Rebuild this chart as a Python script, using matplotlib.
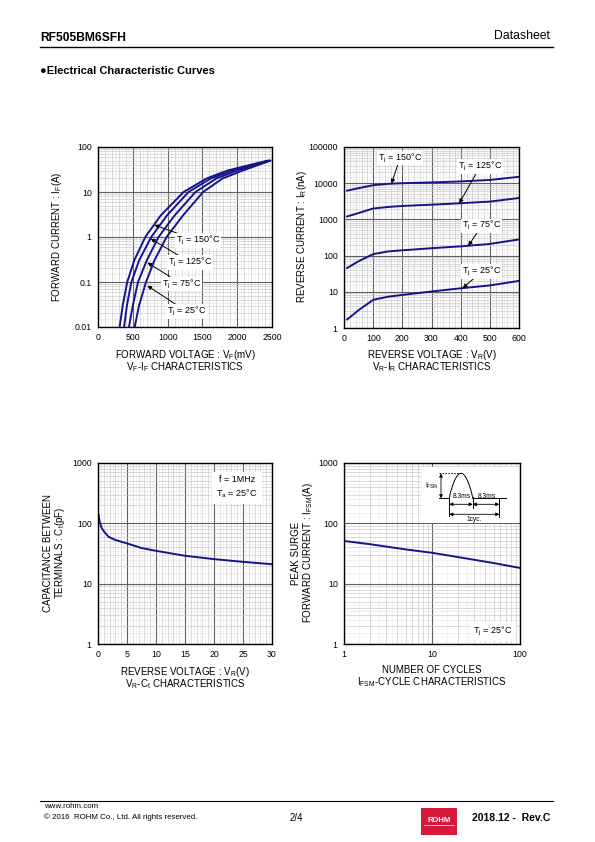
import numpy as np
import matplotlib
matplotlib.use('Agg')
import matplotlib.pyplot as plt
from matplotlib.ticker import FixedLocator, MultipleLocator, LogLocator, NullFormatter
from matplotlib.patches import Rectangle

plt.rcParams['font.family'] = ['Liberation Sans', 'DejaVu Sans']
plt.rcParams['mathtext.fontset'] = 'custom'
plt.rcParams['mathtext.rm'] = 'Liberation Sans'
plt.rcParams['mathtext.it'] = 'Liberation Sans'
plt.rcParams['mathtext.bf'] = 'Liberation Sans:bold'

NAVY = '#15158a'

# VF-IF characteristics (VF in mV at given IF in A)
if_pts = [0.01, 0.03, 0.1, 0.3, 1, 3, 10, 20, 30, 50]
vf_150 = [310, 355, 420, 520, 680, 900, 1230, 1560, 1860, 2440]
vf_125 = [375, 415, 480, 590, 765, 990, 1300, 1620, 1930, 2460]
vf_75 = [445, 500, 575, 700, 870, 1100, 1400, 1700, 2000, 2470]
vf_25 = [527, 590, 690, 810, 985, 1220, 1510, 1790, 2080, 2480]

# VR-IR characteristics (IR in nA)
vr_pts = [10, 50, 100, 150, 200, 300, 400, 500, 600]
ir_150 = [6200, 7300, 8800, 9600, 10000, 10500, 11200, 12300, 15000]
ir_125 = [1200, 1500, 2000, 2200, 2350, 2550, 2800, 3100, 3900]
ir_75 = [45, 70, 110, 130, 140, 160, 180, 210, 280]
ir_25 = [1.7, 3.1, 6.0, 7.3, 8.2, 10.2, 12.5, 15.0, 20.0]

# VR-Ct characteristics
vr_c = [0.05, 0.3, 0.6, 1, 1.8, 3, 5, 7.5, 10, 15, 20, 25, 30]
ct = [145, 105, 85, 74, 60, 53, 46.5, 39, 35, 29, 25.5, 23, 21]

# IFSM-cycle characteristics
cycles = [1, 2, 5, 10, 20, 50, 100]
ifsm = [51, 45, 37, 32.5, 27.5, 22, 18.2]

fig = plt.figure(figsize=(5.95, 8.42), dpi=100)

FS_LAB = 7.0
FS_TICK = 6.3
FS_NOTE = 6.5


def axes_px(x0, y0, x1, y1):
    return fig.add_axes([x0 / 595, 1 - y1 / 842, (x1 - x0) / 595, (y1 - y0) / 842])


def ftext(x, y, s, **kw):
    fig.text(x / 595, 1 - y / 842, s, **kw)


def style(ax):
    for sp in ax.spines.values():
        sp.set_linewidth(1.0)
        sp.set_color('black')
    ax.tick_params(which='both', length=0, labelsize=FS_TICK, pad=4.5)
    ax.set_axisbelow(True)
    ax.grid(which='major', color='#606060', lw=0.8)
    ax.grid(which='minor', color='#c6c6c6', lw=0.45)


def faint_log(ax, lo, hi, axis='y'):
    for e in range(lo, hi):
        for s in [1.5, 2.5, 3.5, 4.5]:
            if axis == 'y':
                ax.axhline(s * 10.0 ** e, color='#e6e6e6', lw=0.4, zorder=0.2)
            else:
                ax.axvline(s * 10.0 ** e, color='#e6e6e6', lw=0.4, zorder=0.2)


def faint_lin(ax, step, lo, hi):
    for v in np.arange(lo + step / 2, hi, step):
        ax.axvline(v, color='#e6e6e6', lw=0.4, zorder=0.2)


def log_ticks(ax, ticks, labels, axis='y'):
    a = ax.yaxis if axis == 'y' else ax.xaxis
    a.set_major_locator(FixedLocator(ticks))
    a.set_minor_locator(LogLocator(base=10, subs=np.arange(2, 10), numticks=20))
    a.set_minor_formatter(NullFormatter())
    if axis == 'y':
        ax.set_yticklabels(labels)
    else:
        ax.set_xticklabels(labels)


def xlabel2(x, y, line1, line2):
    ftext(x, y, line1, ha='center', va='baseline', fontsize=FS_LAB)
    ftext(x, y + 12.5, line2, ha='center', va='baseline', fontsize=FS_LAB)


arrow_kw = dict(arrowstyle='-|>', color='black', lw=0.7, mutation_scale=6,
                shrinkA=0, shrinkB=0)
box_kw = dict(fc='white', ec='none', pad=0.6)
TJ = 'T$_\\mathrm{j}$ = '

# ---------------- VF-IF ----------------
ax1 = axes_px(98, 147, 272, 327)
ax1.set_yscale('log')
ax1.set_xlim(0, 2500)
ax1.set_ylim(0.01, 100)
ax1.xaxis.set_major_locator(MultipleLocator(500))
ax1.xaxis.set_minor_locator(MultipleLocator(100))
log_ticks(ax1, [0.01, 0.1, 1, 10, 100], ['0.01', '0.1', '1', '10', '100'])
style(ax1)
faint_log(ax1, -2, 2)
faint_lin(ax1, 100, 0, 2500)
for vf in [vf_150, vf_125, vf_75, vf_25]:
    ax1.plot(vf, if_pts, color=NAVY, lw=1.4, solid_capstyle='round')
for lbl, tip, pos in [('150°C', (809, 1.85), (0.576, 0.479)),
                      ('125°C', (757, 0.92), (0.529, 0.359)),
                      ('75°C', (709, 0.27), (0.481, 0.239)),
                      ('25°C', (709, 0.083), (0.510, 0.085))]:
    ax1.annotate(TJ + lbl, xy=tip, xytext=pos, textcoords='axes fraction',
                 ha='center', va='center', fontsize=FS_NOTE, bbox=box_kw, arrowprops=arrow_kw)

ftext(57, 237, 'FORWARD CURRENT : I$_\\mathrm{F}$(A)', rotation=90, ha='center', va='center', fontsize=FS_LAB)
xlabel2(185, 358, 'FORWARD VOLTAGE : V$_\\mathrm{F}$(mV)', 'V$_\\mathrm{F}$-I$_\\mathrm{F}$ CHARACTERISTICS')

# ---------------- VR-IR ----------------
ax2 = axes_px(344, 147, 519, 328)
ax2.set_yscale('log')
ax2.set_xlim(0, 600)
ax2.set_ylim(1, 100000)
ax2.xaxis.set_major_locator(MultipleLocator(100))
ax2.xaxis.set_minor_locator(MultipleLocator(20))
log_ticks(ax2, [1, 10, 100, 1000, 10000, 100000],
          ['1', '10', '100', '1000', '10000', '100000'])
style(ax2)
faint_log(ax2, 0, 5)
faint_lin(ax2, 20, 0, 600)
for ir in [ir_150, ir_125, ir_75, ir_25]:
    ax2.plot(vr_pts, ir, color=NAVY, lw=1.4, solid_capstyle='round')
for lbl, tip, pos in [('150°C', (163, 9800), (0.32, 0.939)),
                      ('125°C', (395, 2780), (0.777, 0.891)),
                      ('75°C', (426, 186), (0.787, 0.564)),
                      ('25°C', (407, 12.7), (0.787, 0.311))]:
    ax2.annotate(TJ + lbl, xy=tip, xytext=pos, textcoords='axes fraction',
                 ha='center', va='center', fontsize=FS_NOTE, bbox=box_kw, arrowprops=arrow_kw)

ftext(302, 237, 'REVERSE CURRENT : I$_\\mathrm{R}$(nA)', rotation=90, ha='center', va='center', fontsize=FS_LAB)
xlabel2(432, 358, 'REVERSE VOLTAGE : V$_\\mathrm{R}$(V)', 'V$_\\mathrm{R}$-I$_\\mathrm{R}$ CHARACTERISTICS')

# ---------------- VR-Ct ----------------
ax3 = axes_px(98, 463, 272, 644)
ax3.set_yscale('log')
ax3.set_xlim(0, 30)
ax3.set_ylim(1, 1000)
ax3.xaxis.set_major_locator(MultipleLocator(5))
ax3.xaxis.set_minor_locator(MultipleLocator(1))
log_ticks(ax3, [1, 10, 100, 1000], ['1', '10', '100', '1000'])
style(ax3)
faint_log(ax3, 0, 3)
faint_lin(ax3, 1, 0, 30)
ax3.plot(vr_c, ct, color=NAVY, lw=1.4, solid_capstyle='round')
ax3.text(0.797, 0.867, 'f = 1MHz\nT$_\\mathrm{a}$ = 25°C', transform=ax3.transAxes,
         ha='center', va='center', fontsize=FS_NOTE, linespacing=1.4,
         bbox=dict(fc='white', ec='none', pad=3))

ftext(48, 553, 'CAPACITANCE BETWEEN', rotation=90, ha='center', va='center', fontsize=FS_LAB)
ftext(60, 553, 'TERMINALS : C$_\\mathrm{t}$(pF)', rotation=90, ha='center', va='center', fontsize=FS_LAB)
xlabel2(185, 675, 'REVERSE VOLTAGE : V$_\\mathrm{R}$(V)', 'V$_\\mathrm{R}$-C$_\\mathrm{t}$ CHARACTERISTICS')

# ---------------- IFSM-cycle ----------------
ax4 = axes_px(344, 463, 520, 644)
ax4.set_xscale('log')
ax4.set_yscale('log')
ax4.set_xlim(1, 100)
ax4.set_ylim(1, 1000)
log_ticks(ax4, [1, 10, 100], ['1', '10', '100'], axis='x')
log_ticks(ax4, [1, 10, 100, 1000], ['1', '10', '100', '1000'])
style(ax4)
faint_log(ax4, 0, 3)
faint_log(ax4, 0, 2, axis='x')
ax4.plot(cycles, ifsm, color=NAVY, lw=1.4, solid_capstyle='round')
ax4.text(0.847, 0.068, TJ + '25°C', transform=ax4.transAxes, ha='center', va='center',
         fontsize=FS_NOTE, bbox=dict(fc='white', ec='none', pad=2))

ftext(296, 553, 'PEAK SURGE', rotation=90, ha='center', va='center', fontsize=FS_LAB)
ftext(308, 553, 'FORWARD CURRENT : I$_\\mathrm{FSM}$(A)', rotation=90, ha='center', va='center', fontsize=FS_LAB)
xlabel2(432, 673, 'NUMBER OF CYCLES', 'I$_\\mathrm{FSM}$-CYCLE CHARACTERISTICS')

# ---------------- overlay: header, footer, surge inset ----------------
ov = fig.add_axes([0, 0, 1, 1], zorder=10)
ov.set_xlim(0, 595)
ov.set_ylim(842, 0)
ov.axis('off')
ov.patch.set_alpha(0)

# surge waveform sketch
ov.add_patch(Rectangle((421.5, 467), 97, 56, fc='white', ec='none'))
k = dict(color='black', lw=0.7)
ov.plot([439.3, 449.3], [498.3, 498.3], **k)
ov.plot([472.7, 506], [498.3, 498.3], **k)
t = np.linspace(0, np.pi, 40)
ov.plot(449.3 + 23.4 * t / np.pi, 498.3 - 25 * np.sin(t) ** 0.8, **k)
ov.plot([439.3, 461], [473.3, 473.3], color='black', lw=0.6, ls=(0, (2, 1.5)))
for x, y0, y1 in [(449.3, 498.3, 516), (472.7, 497, 508), (499.3, 498.3, 517)]:
    ov.plot([x, x], [y0, y1], **k)
dbl = dict(arrowstyle='<|-|>', color='black', lw=0.6, mutation_scale=5, shrinkA=0, shrinkB=0)
ov.annotate('', xy=(441, 473.5), xytext=(441, 498.3), arrowprops=dbl)
ov.annotate('', xy=(449.3, 504.3), xytext=(472.7, 504.3), arrowprops=dbl)
ov.annotate('', xy=(472.7, 504.3), xytext=(499.3, 504.3), arrowprops=dbl)
ov.annotate('', xy=(449.3, 514.3), xytext=(499.3, 514.3), arrowprops=dbl)
ov.text(431.5, 485.7, 'I$_\\mathrm{FSM}$', ha='center', va='center', fontsize=4.8)
ov.text(461.5, 496, '8.3ms', ha='center', va='center', fontsize=4.8)
ov.text(486.5, 496, '8.3ms', ha='center', va='center', fontsize=4.8)
ov.text(474.3, 519.5, '1cyc.', ha='center', va='center', fontsize=4.8)

# header
ov.text(40, 38, 'RF505BM6SFH', ha='left', va='center', fontsize=8.7, fontweight='bold')
ov.text(550, 36, 'Datasheet', ha='right', va='center', fontsize=8.8)
ov.plot([40, 553], [46.5, 46.5], color='black', lw=1.0)
ov.text(40, 71, '●Electrical Characteristic Curves', ha='left', va='center',
        fontsize=8.0, fontweight='bold', family=['Liberation Sans', 'DejaVu Sans'])

# footer
ov.plot([40, 553], [800.5, 800.5], color='black', lw=0.8)
ov.text(44, 807, 'www.rohm.com', ha='left', va='center', fontsize=5.7)
ov.text(44, 817, '© 2016  ROHM Co., Ltd. All rights reserved.', ha='left', va='center', fontsize=5.7)
ov.text(296, 818, '2/4', ha='center', va='center', fontsize=7)
ov.add_patch(Rectangle((421, 808), 36, 27, fc='#d7193c', ec='none'))
ov.text(439, 820, 'ROHM', ha='center', va='center', fontsize=5.5, fontweight='bold', color='white')
ov.plot([424, 454], [825, 825], color='white', lw=0.5)
ov.text(550, 818, '2018.12 -  Rev.C', ha='right', va='center', fontsize=7.5, fontweight='bold')

fig.savefig('out.png', dpi=100)
